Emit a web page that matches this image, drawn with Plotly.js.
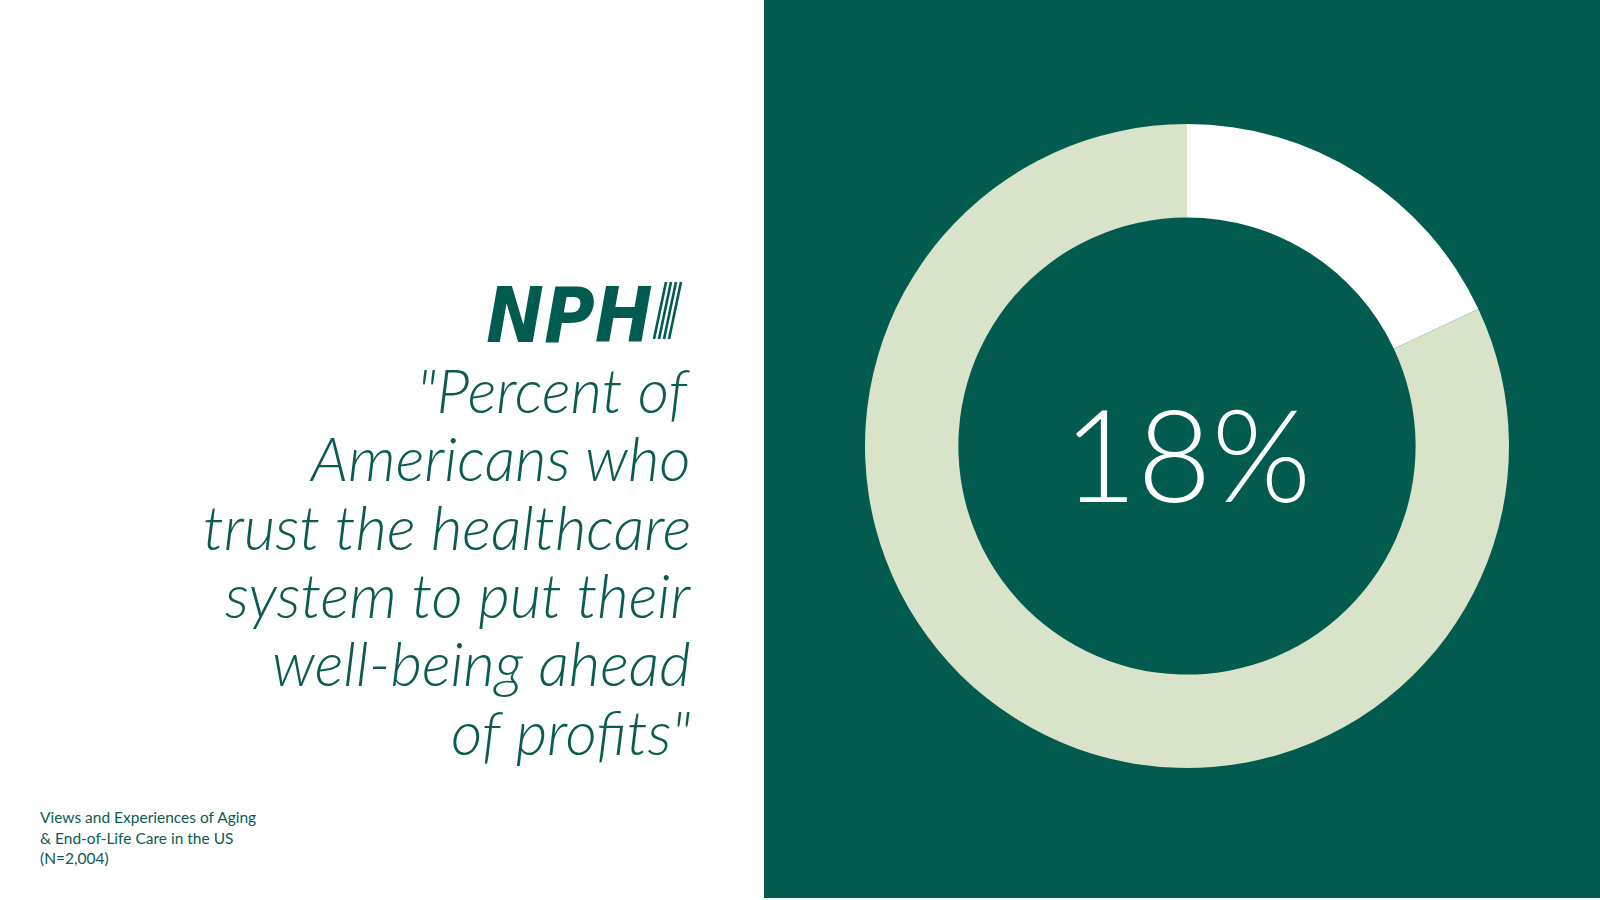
<!DOCTYPE html>
<html>
<head>
<meta charset="utf-8">
<script src="https://cdn.plot.ly/plotly-3.0.1.min.js"></script>
<style>html,body{margin:0;padding:0;background:#fff;}#chart{width:1600px;height:900px;}</style>
</head>
<body>
<div id="chart"></div>
<script>
// ---- data ----
const sliceLabels = ["Trust the healthcare system", "Do not trust"];
const sliceValues = [18, 82];
const centerLabel = "18%";
const quoteLines = ["\"Percent of", "Americans who", "trust the healthcare", "system to put their", "well-being ahead", "of profits\""];
const sourceLines = ["Views and Experiences of Aging", "& End-of-Life Care in the US", "(N=2,004)"];
const logoText = "NPH";

// ---- styling ----
const W = 1600, H = 900;
const GREEN = "#015b4f";
const LIGHT = "#d9e3c9";
const TEXTGREEN = "#0b5c50";
const px = x => x / W;
const py = y => 1 - y / H;

const annotations = [];
// quote lines
const quoteBase = 413, quoteStep = 68.4, quoteSize = 61;
quoteLines.forEach((t, i) => {
  annotations.push({
    text: t, xref: "paper", yref: "paper", x: px(693), y: py(quoteBase + i * quoteStep - 0.387 * quoteSize),
    xanchor: "right", yanchor: "middle", showarrow: false,
    font: {family: "Lato", size: quoteSize, color: TEXTGREEN, style: "italic", weight: 300}
  });
});
// source lines
const srcBase = 823, srcStep = 20.5, srcSize = 15.5;
sourceLines.forEach((t, i) => {
  annotations.push({
    text: t, xref: "paper", yref: "paper", x: px(38), y: py(srcBase + i * srcStep - 0.387 * srcSize),
    xanchor: "left", yanchor: "middle", showarrow: false,
    font: {family: "Lato", size: srcSize, color: TEXTGREEN}
  });
});
// logo text
annotations.push({
  text: "<b><i>" + logoText + "</i></b>", xref: "paper", yref: "paper", x: px(655), y: py(339 - 0.3 * 77),
  xanchor: "right", yanchor: "middle", showarrow: false,
  font: {family: "DejaVu Sans Condensed", size: 77, color: GREEN}
});
// center label
annotations.push({
  text: centerLabel, xref: "paper", yref: "paper", x: px(1187), y: py(502 - 0.387 * 128),
  xanchor: "center", yanchor: "middle", showarrow: false,
  font: {family: "Lato", size: 128, color: "#ffffff", weight: 300}
});

const shapes = [
  {type: "rect", xref: "paper", yref: "paper", x0: px(764), x1: 1, y0: py(898), y1: 1,
   fillcolor: GREEN, line: {width: 0}, layer: "below"}
];
// logo stripes (the striped "I")
[654, 659, 664, 669].forEach(xb => {
  shapes.push({type: "line", xref: "paper", yref: "paper", x0: px(xb), y0: py(339), x1: px(xb + 12), y1: py(282),
    line: {color: GREEN, width: 2.6}});
});

const cx = 1187, cy = 446, R = 322;
const trace = {
  type: "pie",
  labels: sliceLabels,
  values: sliceValues,
  hole: 0.71,
  sort: false,
  direction: "clockwise",
  rotation: 0,
  textinfo: "none",
  hoverinfo: "label+percent",
  marker: {colors: ["#ffffff", LIGHT], line: {width: 0}},
  domain: {x: [px(cx - R), px(cx + R)], y: [py(cy + R), py(cy - R)]},
  showlegend: false
};

const layout = {
  width: W, height: H,
  margin: {l: 0, r: 0, t: 0, b: 0},
  paper_bgcolor: "#ffffff",
  plot_bgcolor: "rgba(0,0,0,0)",
  showlegend: false,
  annotations: annotations,
  shapes: shapes
};

Plotly.newPlot("chart", [trace], layout, {displayModeBar: false, staticPlot: true});
</script>
</body>
</html>
